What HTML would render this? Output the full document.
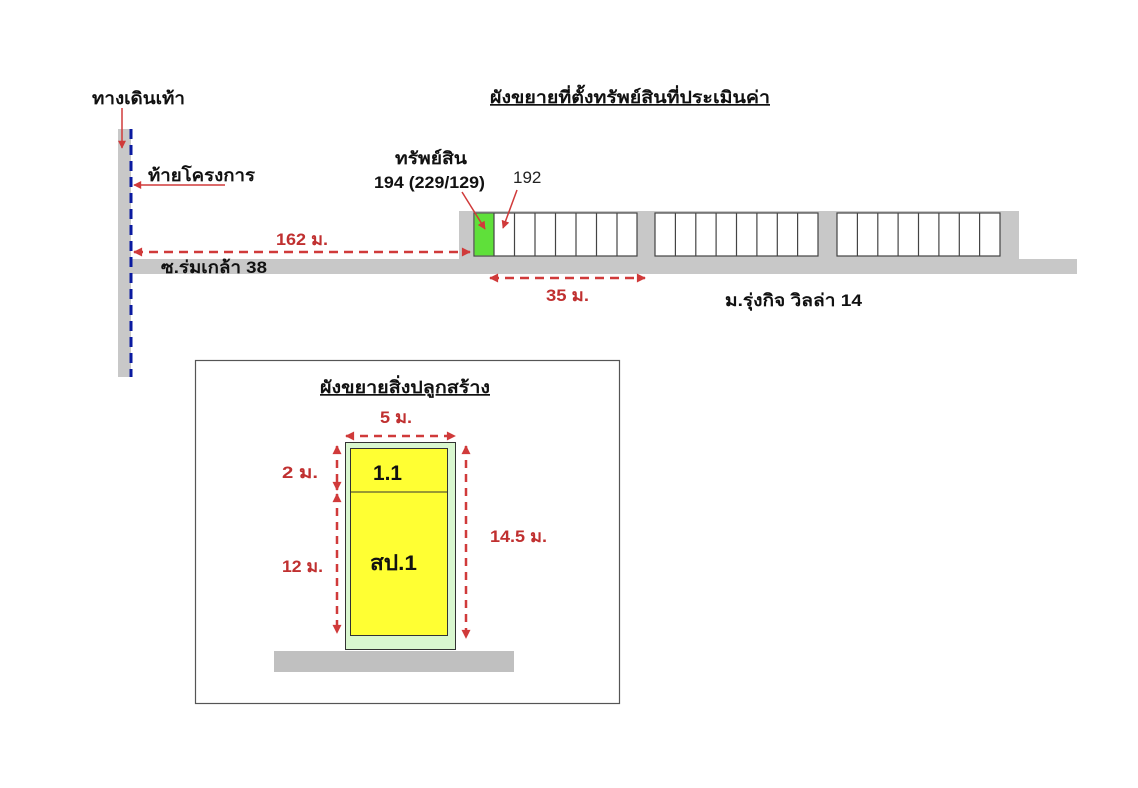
<!DOCTYPE html>
<html><head><meta charset="utf-8"><style>
html,body{margin:0;padding:0;background:#fff;}
svg{display:block;font-family:"Liberation Sans","Noto Sans CJK SC",sans-serif;}
</style></head><body>
<svg width="1138" height="788" viewBox="0 0 1138 788" xmlns="http://www.w3.org/2000/svg">
<defs>
<marker id="ar" viewBox="0 0 10 10" refX="9" refY="5" markerUnits="userSpaceOnUse" markerWidth="10" markerHeight="9" orient="auto-start-reverse"><path d="M0,0 L10,5 L0,10 z" fill="#d03a3a"/></marker>
<marker id="as" viewBox="0 0 10 10" refX="9" refY="5" markerUnits="userSpaceOnUse" markerWidth="9" markerHeight="8" orient="auto-start-reverse"><path d="M0,0 L10,5 L0,10 z" fill="#d03a3a"/></marker>
</defs>
<rect width="1138" height="788" fill="#fff"/>
<rect x="118" y="129" width="13" height="248" fill="#c8c8c8"/>
<rect x="131" y="259" width="946" height="15" fill="#c8c8c8"/>
<rect x="459" y="211" width="560" height="49" fill="#c8c8c8"/>
<line x1="131" y1="129" x2="131" y2="377" stroke="#0a1aa0" stroke-width="3" stroke-dasharray="10,6"/>
<g stroke="#444" stroke-width="1.2" fill="#fff">
<rect x="474" y="213" width="163" height="43"/>
<rect x="655" y="213" width="163" height="43"/>
<rect x="837" y="213" width="163" height="43"/>
</g>
<rect x="474.6" y="213.6" width="19.8" height="41.8" fill="#5fe03a"/>
<g stroke="#444" stroke-width="1.2">
<line x1="494" y1="213" x2="494" y2="256"/><line x1="514.5" y1="213" x2="514.5" y2="256"/><line x1="535" y1="213" x2="535" y2="256"/><line x1="555.5" y1="213" x2="555.5" y2="256"/><line x1="576" y1="213" x2="576" y2="256"/><line x1="596.5" y1="213" x2="596.5" y2="256"/><line x1="617" y1="213" x2="617" y2="256"/>
<line x1="675.4" y1="213" x2="675.4" y2="256"/><line x1="695.8" y1="213" x2="695.8" y2="256"/><line x1="716.1" y1="213" x2="716.1" y2="256"/><line x1="736.5" y1="213" x2="736.5" y2="256"/><line x1="756.9" y1="213" x2="756.9" y2="256"/><line x1="777.3" y1="213" x2="777.3" y2="256"/><line x1="797.6" y1="213" x2="797.6" y2="256"/>
<line x1="857.4" y1="213" x2="857.4" y2="256"/><line x1="877.8" y1="213" x2="877.8" y2="256"/><line x1="898.1" y1="213" x2="898.1" y2="256"/><line x1="918.5" y1="213" x2="918.5" y2="256"/><line x1="938.9" y1="213" x2="938.9" y2="256"/><line x1="959.3" y1="213" x2="959.3" y2="256"/><line x1="979.6" y1="213" x2="979.6" y2="256"/>
</g>
<g stroke="#d03a3a" stroke-width="2.5" fill="none">
<line x1="134" y1="252" x2="470" y2="252" stroke-dasharray="9,6" marker-start="url(#ar)" marker-end="url(#ar)"/>
<line x1="490" y1="278" x2="645" y2="278" stroke-dasharray="9,6" marker-start="url(#ar)" marker-end="url(#ar)"/>
</g>
<g stroke="#d03a3a" stroke-width="1.5" fill="none">
<line x1="122" y1="108" x2="122" y2="148" marker-end="url(#as)"/>
<line x1="225" y1="185" x2="134" y2="185" marker-end="url(#as)"/>
<line x1="462" y1="192" x2="485" y2="229" marker-end="url(#as)"/>
<line x1="517" y1="190" x2="503" y2="228" marker-end="url(#as)"/>
</g>
<g font-weight="bold" font-size="17" fill="#111" lengthAdjust="spacingAndGlyphs">
<text x="92" y="104" textLength="93" lengthAdjust="spacingAndGlyphs">ทางเดินเท้า</text>
<text x="148" y="181" textLength="107" lengthAdjust="spacingAndGlyphs">ท้ายโครงการ</text>
<text x="490" y="103" textLength="280" lengthAdjust="spacingAndGlyphs" text-decoration="underline">ผังขยายที่ตั้งทรัพย์สินที่ประเมินค่า</text>
<text x="395" y="164" textLength="72" lengthAdjust="spacingAndGlyphs">ทรัพย์สิน</text>
<text x="374" y="188" textLength="111" lengthAdjust="spacingAndGlyphs">194 (229/129)</text>
<text x="161" y="273" textLength="106" lengthAdjust="spacingAndGlyphs">ซ.ร่มเกล้า 38</text>
<text x="725" y="306" textLength="137" lengthAdjust="spacingAndGlyphs">ม.รุ่งกิจ วิลล่า 14</text>
</g>
<text x="513" y="183" font-size="17" fill="#222">192</text>
<g font-weight="bold" font-size="17" fill="#c03030">
<text x="276" y="245" textLength="52" lengthAdjust="spacingAndGlyphs">162 ม.</text>
<text x="546" y="301" textLength="43" lengthAdjust="spacingAndGlyphs">35 ม.</text>
</g>
<rect x="195.5" y="360.5" width="424" height="343" fill="#fff" stroke="#555" stroke-width="1.2"/>
<text x="320" y="393" textLength="170" lengthAdjust="spacingAndGlyphs" font-weight="bold" font-size="17" fill="#111" text-decoration="underline">ผังขยายสิ่งปลูกสร้าง</text>
<rect x="274" y="651" width="240" height="21" fill="#c0c0c0"/>
<rect x="345.5" y="442.5" width="110" height="207" fill="#d9f7cf" stroke="#333" stroke-width="1"/>
<rect x="350.5" y="448.5" width="97" height="187" fill="#ffff33" stroke="#333" stroke-width="1"/>
<line x1="350" y1="492" x2="448" y2="492" stroke="#333" stroke-width="1"/>
<text x="373" y="480" textLength="29" lengthAdjust="spacingAndGlyphs" font-weight="bold" font-size="21" fill="#111">1.1</text>
<text x="370" y="570" textLength="47" lengthAdjust="spacingAndGlyphs" font-weight="bold" font-size="21" fill="#111">สป.1</text>
<g stroke="#d03a3a" stroke-width="2.5" fill="none" stroke-dasharray="8,6">
<line x1="346" y1="436" x2="455" y2="436" marker-start="url(#ar)" marker-end="url(#ar)"/>
<line x1="337" y1="446" x2="337" y2="490" marker-start="url(#ar)" marker-end="url(#ar)"/>
<line x1="337" y1="494" x2="337" y2="633" marker-start="url(#ar)" marker-end="url(#ar)"/>
<line x1="466" y1="446" x2="466" y2="638" marker-start="url(#ar)" marker-end="url(#ar)"/>
</g>
<g font-weight="bold" font-size="17" fill="#c03030">
<text x="380" y="423" textLength="32" lengthAdjust="spacingAndGlyphs">5 ม.</text>
<text x="282" y="478" textLength="36" lengthAdjust="spacingAndGlyphs">2 ม.</text>
<text x="282" y="572" textLength="41" lengthAdjust="spacingAndGlyphs">12 ม.</text>
<text x="490" y="542" textLength="57" lengthAdjust="spacingAndGlyphs">14.5 ม.</text>
</g>
</svg>
</body></html>
